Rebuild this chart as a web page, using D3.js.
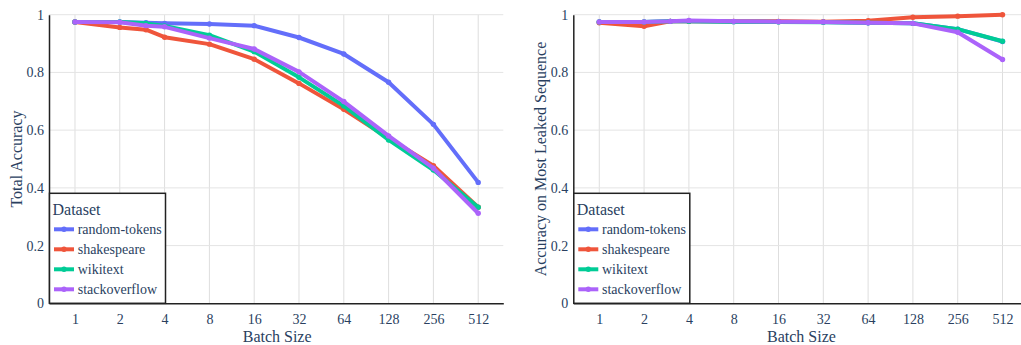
<!DOCTYPE html>
<html>
<head>
<meta charset="utf-8">
<script src="https://cdn.jsdelivr.net/npm/d3@7"></script>
<style>
  body { margin: 0; background: #fff; }
  svg { display: block; font-family: "Liberation Serif", "Times New Roman", serif; }
</style>
</head>
<body>
<svg width="1021" height="345"></svg>
<script>
// data
var batchSizes = [1, 2, 3, 4, 8, 16, 32, 64, 128, 256, 512];
var xTicks = [1, 2, 4, 8, 16, 32, 64, 128, 256, 512];
var yTicks = [0, 0.2, 0.4, 0.6, 0.8, 1];
var datasets = ["random-tokens", "shakespeare", "wikitext", "stackoverflow"];
var colors = ["#636efa", "#EF553B", "#00cc96", "#ab63fa"];

var totalRandom = [0.975, 0.975, 0.972, 0.970, 0.968, 0.962, 0.921, 0.864, 0.766, 0.620, 0.419];
var totalShakespeare = [0.975, 0.956, 0.948, 0.922, 0.898, 0.846, 0.762, 0.672, 0.572, 0.477, 0.333];
var totalWikitext = [0.975, 0.975, 0.970, 0.961, 0.929, 0.872, 0.783, 0.684, 0.566, 0.462, 0.333];
var totalStack = [0.975, 0.974, 0.962, 0.958, 0.919, 0.881, 0.802, 0.699, 0.580, 0.468, 0.312];

var leakRandom = [0.975, 0.975, 0.977, 0.977, 0.976, 0.976, 0.975, 0.972, 0.970, 0.950, 0.907];
var leakShakespeare = [0.972, 0.960, 0.977, 0.977, 0.977, 0.977, 0.976, 0.979, 0.991, 0.995, 1.0];
var leakWikitext = [0.975, 0.975, 0.977, 0.977, 0.976, 0.975, 0.974, 0.972, 0.970, 0.950, 0.908];
var leakStack = [0.975, 0.975, 0.977, 0.980, 0.977, 0.976, 0.975, 0.972, 0.970, 0.939, 0.845];

var svg = d3.select("svg");
var textColor = "#2a3f5f";

var plotW = 454.3,
    plotTop = 14.7,
    plotBottom = 303.3;

function panel(left, yTitle, series) {
    var g = svg.append("g").attr("transform", "translate(" + left + ",0)");

    // log2 axis with a bit of padding on each side
    var x = d3.scaleLog().base(2)
        .domain([Math.pow(2, -0.58), Math.pow(2, 9.56)])
        .range([0, plotW]);
    var y = d3.scaleLinear().domain([0, 1]).range([plotBottom, plotTop]);

    // grid
    g.append("g").selectAll("line")
        .data(xTicks).join("line")
        .attr("x1", d => x(d)).attr("x2", d => x(d))
        .attr("y1", plotTop).attr("y2", plotBottom)
        .attr("stroke", "#dedede");
    g.append("g").selectAll("line")
        .data(yTicks.slice(1)).join("line")
        .attr("x1", 0).attr("x2", plotW)
        .attr("y1", d => y(d)).attr("y2", d => y(d))
        .attr("stroke", "#e4e4e4");

    // axes
    var xAxis = g.append("g")
        .attr("transform", "translate(0," + plotBottom + ")")
        .call(d3.axisBottom(x).tickValues(xTicks).tickFormat(d3.format("d")).tickSize(0).tickPadding(11));
    var yAxis = g.append("g")
        .call(d3.axisLeft(y).tickValues(yTicks).tickFormat(d3.format("~g")).tickSize(0).tickPadding(5));
    [xAxis, yAxis].forEach(function(a) {
        a.select(".domain").attr("stroke", "#222").attr("stroke-width", 1.5);
        a.selectAll("text").attr("fill", textColor).style("font-size", "14px")
            .style("font-family", "Liberation Serif, serif");
    });

    // axis titles
    g.append("text")
        .attr("x", plotW / 2 + 1)
        .attr("y", 342)
        .attr("text-anchor", "middle")
        .attr("fill", textColor)
        .style("font-size", "16px")
        .text("Batch Size");
    g.append("text")
        .attr("transform", "rotate(-90)")
        .attr("x", -(plotTop + plotBottom) / 2)
        .attr("y", -27)
        .attr("text-anchor", "middle")
        .attr("fill", textColor)
        .style("font-size", "16px")
        .text(yTitle);

    // lines
    var line = d3.line()
        .x((d, i) => x(batchSizes[i]))
        .y(d => y(d));
    series.forEach(function(s, k) {
        g.append("path")
            .attr("d", line(s))
            .attr("fill", "none")
            .attr("stroke", colors[k])
            .attr("stroke-width", 4)
            .attr("stroke-linejoin", "round");
        g.append("g").selectAll("circle")
            .data(s).join("circle")
            .attr("cx", (d, i) => x(batchSizes[i]))
            .attr("cy", d => y(d))
            .attr("r", 2.7)
            .attr("fill", colors[k]);
    });

    // legend
    var legend = g.append("g").attr("transform", "translate(0," + 193.3 + ")");
    legend.append("rect")
        .attr("x", 0.5).attr("y", 0)
        .attr("width", 116).attr("height", plotBottom - 193.3)
        .attr("fill", "#fff")
        .attr("stroke", "#222")
        .attr("stroke-width", 1.5);
    legend.append("text")
        .attr("x", 3.5).attr("y", 22)
        .attr("fill", textColor)
        .style("font-size", "16px")
        .text("Dataset");
    datasets.forEach(function(name, k) {
        var item = legend.append("g").attr("transform", "translate(0," + (36 + k * 20) + ")");
        item.append("line")
            .attr("x1", 5).attr("x2", 25)
            .attr("stroke", colors[k])
            .attr("stroke-width", 4);
        item.append("circle").attr("cx", 15).attr("r", 2.7).attr("fill", colors[k]);
        item.append("text")
            .attr("x", 28.7).attr("y", 5)
            .attr("fill", textColor)
            .style("font-size", "14px")
            .text(name);
    });
}

panel(49, "Total Accuracy", [totalRandom, totalShakespeare, totalWikitext, totalStack]);
panel(573.3, "Accuracy on Most Leaked Sequence", [leakRandom, leakShakespeare, leakWikitext, leakStack]);
</script>
</body>
</html>
